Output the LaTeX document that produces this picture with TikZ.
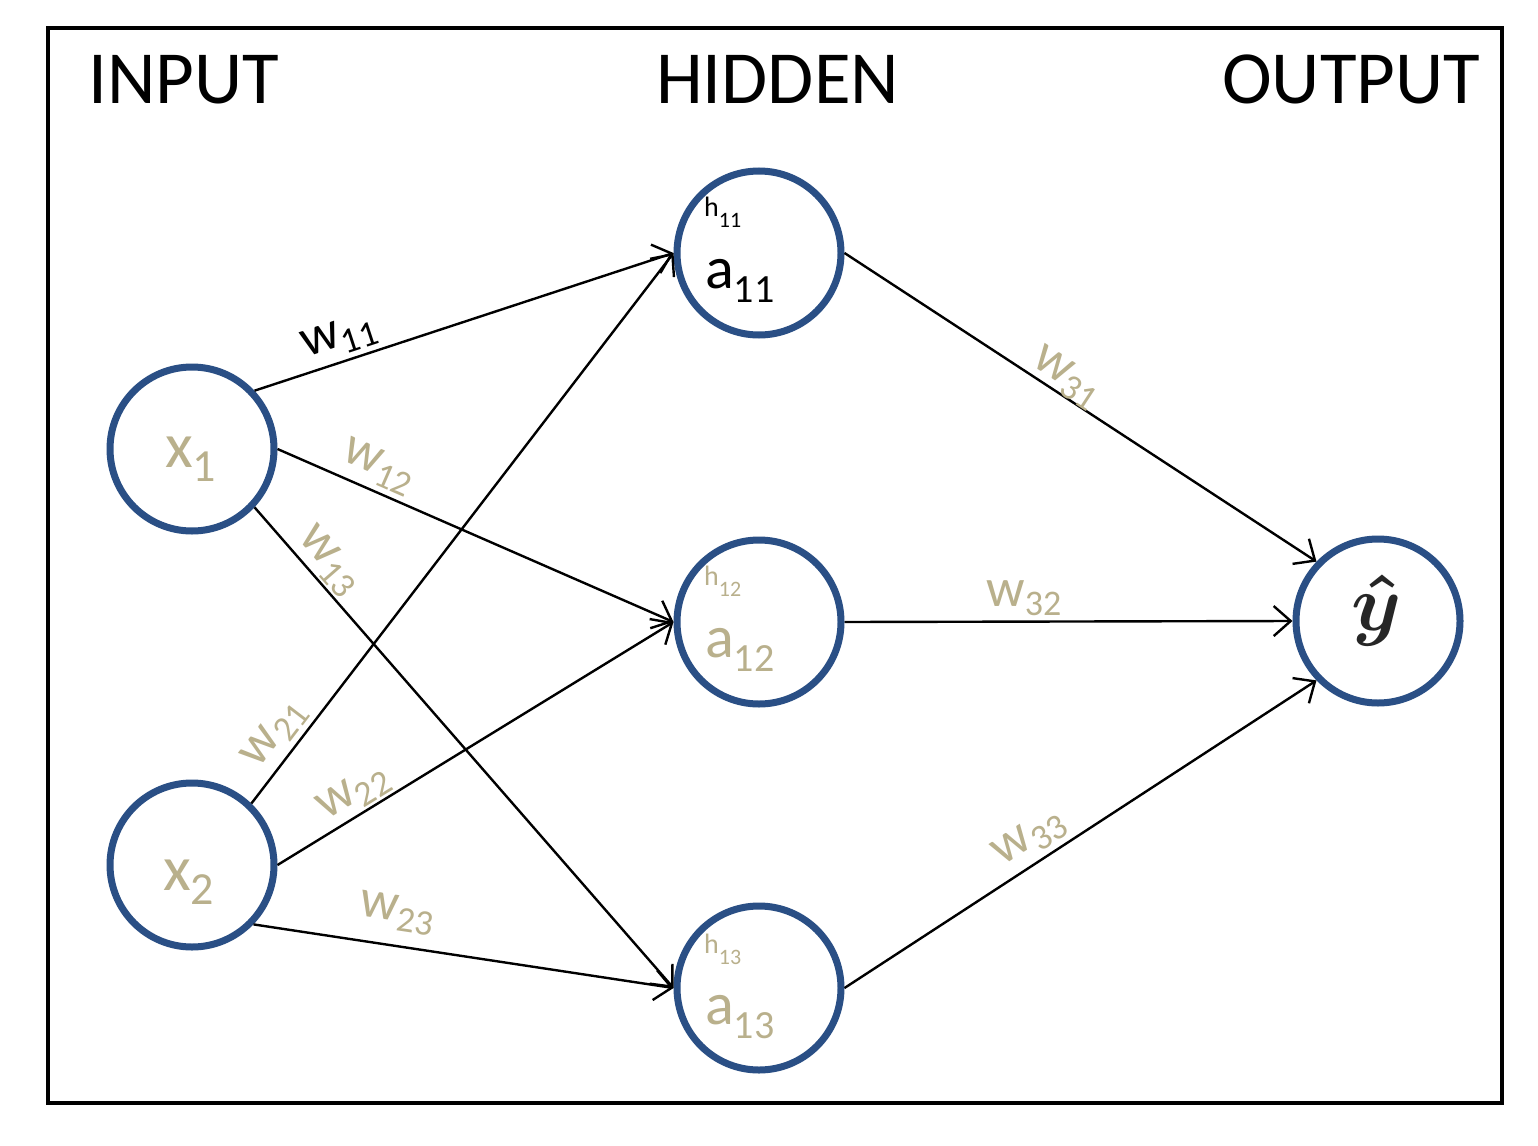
\documentclass[tikz,border=0pt]{standalone}
\usepackage{fontspec}
\usepackage{graphicx}
\setmainfont{Carlito}
\usetikzlibrary{arrows.meta}
\definecolor{ringblue}{HTML}{2A4F85}
\definecolor{tan}{HTML}{B9B08C}
\newcommand\wlab[1]{{\fontsize{54}{54}\selectfont w}\raisebox{-9pt}{\fontsize{36}{36}\selectfont #1}}
\newcommand\alab[1]{{\fontsize{60}{60}\selectfont a}\raisebox{-14pt}{\fontsize{40}{40}\selectfont #1}}
\newcommand\hlab[1]{{\fontsize{28}{28}\selectfont h}\raisebox{-11pt}{\fontsize{22}{22}\selectfont #1}}
\newcommand\xlab[1]{{\fontsize{64}{64}\selectfont x}\raisebox{-14pt}{\fontsize{46}{46}\selectfont #1}}
\begin{document}
\begin{tikzpicture}[x=1pt,y=-1pt,
  neuron/.style={circle, draw=ringblue, line width=7pt, minimum size=164pt, inner sep=0pt, fill=white},
  edge/.style={line width=2.4pt, -{Straight Barb[length=17pt,width=30pt,line width=2.4pt]}},
  wl/.style={sloped, inner sep=0pt, text=tan},
  txt/.style={inner sep=0pt, anchor=base west},
  title/.style={inner sep=0pt, anchor=base west, font=\fontsize{75}{75}\selectfont}]
\useasboundingbox (0,0) rectangle (1538,1145);
\fill[white] (0,0) rectangle (1538,1145);
\draw[line width=4pt] (48,28) rectangle (1502,1103);

\node[title] (tin) at (88,104) {INPUT};
\node[title] (thid) at (656,104) {HIDDEN};
\node[title] (tout) at (1222,104) {OUTPUT};

\node[neuron] (x1) at (192,449) {};
\node[neuron] (x2) at (192,865) {};
\node[neuron] (a11) at (759,253) {};
\node[neuron] (a12) at (759,622) {};
\node[neuron] (a13) at (759,988) {};
\node[neuron] (y) at (1378,621) {};

\node[txt, text=tan] (tx1) at (165,467) {\xlab{1}};
\node[txt, text=tan] (tx2) at (163,890) {\xlab{2}};
\node[txt] (th11) at (704,216) {\hlab{11}};
\node[txt] (ta11) at (705,288) {\alab{11}};
\node[txt, text=tan] (th12) at (704,585) {\hlab{12}};
\node[txt, text=tan] (ta12) at (705,657) {\alab{12}};
\node[txt, text=tan] (th13) at (704,953) {\hlab{13}};
\node[txt, text=tan] (ta13) at (705,1024) {\alab{13}};
\node[inner sep=0pt, text=black!85] (ty) at (1377,610) {\scalebox{8}{\boldmath$\hat{y}$}};

\draw[edge] (x1.43) -- node[wl, text=black, pos=0.22, above=5pt] (l11) {\wlab{11}} (a11.west);
\draw[edge] (x1.east) -- node[wl, pos=0.23, above=5pt] (l12) {\wlab{12}} (a12.west);
\draw[edge] (x1.-43) -- node[wl, pos=0.14, above=2pt] (l13) {\wlab{13}} (a13.west);
\draw[edge] (x2.46) -- node[wl, pos=0.10, above=5pt] (l21) {\wlab{21}} (a11.west);
\draw[edge] (x2.east) -- node[wl, pos=0.22, above=2pt] (l22) {\wlab{22}} (a12.west);
\draw[edge] (x2.-44) -- node[wl, pos=0.33, above=14pt] (l23) {\wlab{23}} (a13.west);
\draw[edge] (a11.east) -- node[wl, pos=0.45, above=-2pt] (l31) {\wlab{31}} (y.136);
\draw[edge] (a12.east) -- node[wl, pos=0.40, above=5pt] (l32) {\wlab{32}} (y.west);
\draw[edge] (a13.east) -- node[wl, pos=0.42, above=5pt] (l33) {\wlab{33}} (y.224);
\end{tikzpicture}
\end{document}
